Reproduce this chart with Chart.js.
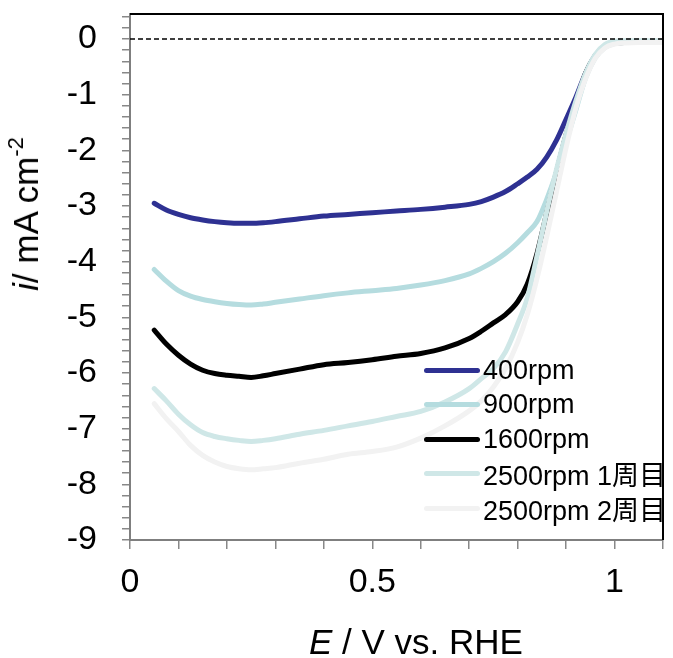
<!DOCTYPE html>
<html>
<head>
<meta charset="utf-8">
<script src="https://cdn.jsdelivr.net/npm/chart.js@4.4.1/dist/chart.umd.min.js"></script>
<style>
  body { margin: 0; background: #fff; }
  #wrap { position: relative; width: 673px; height: 658px; font-family: "Liberation Sans", Arial, "Noto Sans CJK JP", sans-serif; }
  #xtitle { position: absolute; left: 416px; top: 642px; transform: translate(-50%, -50%); font-size: 35px; white-space: nowrap; color: #000; }
  #ytitle { position: absolute; left: 26px; top: 214px; transform: translate(-50%, -50%) rotate(-90deg); font-size: 35px; white-space: nowrap; color: #000; }
  #ytitle sup { font-size: 22px; vertical-align: 15px; line-height: 0; }
  #legend { position: absolute; left: 424px; top: 353px; }
  .row { display: flex; align-items: center; height: 34.5px; font-size: 27px; white-space: nowrap; font-family: "Liberation Sans", Arial, "Noto Sans CJK JP", sans-serif; }
  .sw { width: 56px; height: 5px; border-radius: 3px; margin-right: 3px; }
</style>
</head>
<body>
<div id="wrap">
  <canvas id="chart" width="673" height="658"></canvas>
  <div id="xtitle"><i>E</i> / V vs. RHE</div>
  <div id="ytitle"><i>i</i>/ mA cm<sup>-2</sup></div>
  <div id="legend"></div>
</div>
<script>
// potential / V vs. RHE
const potential = [0.05, 0.075, 0.10, 0.125, 0.15, 0.175, 0.20, 0.225, 0.25, 0.275,
  0.30, 0.35, 0.40, 0.45, 0.50, 0.55, 0.60, 0.65, 0.70, 0.725,
  0.75, 0.775, 0.80, 0.82, 0.84, 0.86, 0.88, 0.90, 0.92, 0.94,
  0.96, 0.98, 1.00, 1.02, 1.05, 1.08, 1.10];

// current density / mA cm-2
const i400 = [-2.95, -3.07, -3.15, -3.21, -3.25, -3.28, -3.30, -3.31, -3.31, -3.30,
  -3.28, -3.23, -3.18, -3.15, -3.12, -3.09, -3.06, -3.02, -2.97, -2.92,
  -2.84, -2.74, -2.60, -2.48, -2.34, -2.12, -1.82, -1.44, -1.05, -0.62,
  -0.30, -0.13, -0.07, -0.05, -0.05, -0.05, -0.05];
const i900 = [-4.14, -4.35, -4.52, -4.62, -4.68, -4.72, -4.75, -4.77, -4.78, -4.76,
  -4.73, -4.67, -4.61, -4.56, -4.52, -4.48, -4.42, -4.34, -4.22, -4.12,
  -4.00, -3.85, -3.66, -3.48, -3.28, -2.88, -2.40, -1.85, -1.28, -0.70,
  -0.34, -0.15, -0.08, -0.06, -0.06, -0.06, -0.06];
const i1600 = [-5.23, -5.48, -5.68, -5.84, -5.95, -6.01, -6.04, -6.06, -6.08, -6.05,
  -6.01, -5.93, -5.85, -5.81, -5.76, -5.70, -5.65, -5.55, -5.38, -5.25,
  -5.10, -4.95, -4.72, -4.40, -3.85, -3.12, -2.40, -1.72, -1.16, -0.62,
  -0.30, -0.13, -0.07, -0.06, -0.06, -0.06, -0.06];
const i2500a = [-6.28, -6.50, -6.74, -6.93, -7.07, -7.14, -7.18, -7.21, -7.23, -7.21,
  -7.18, -7.10, -7.03, -6.95, -6.87, -6.78, -6.69, -6.52, -6.28, -6.10,
  -5.92, -5.62, -5.12, -4.65, -3.90, -3.10, -2.35, -1.70, -1.12, -0.62,
  -0.28, -0.10, -0.04, -0.03, -0.03, -0.03, -0.03];
const i2500b = [-6.55, -6.82, -7.05, -7.30, -7.48, -7.60, -7.68, -7.72, -7.74, -7.72,
  -7.70, -7.62, -7.55, -7.46, -7.41, -7.33, -7.17, -6.95, -6.68, -6.50,
  -6.25, -5.92, -5.45, -4.95, -4.30, -3.55, -2.75, -1.95, -1.25, -0.72,
  -0.35, -0.16, -0.09, -0.07, -0.06, -0.06, -0.06];

const seriesLabels = ['400rpm', '900rpm', '1600rpm', '2500rpm 1周目', '2500rpm 2周目'];
const seriesValues = [i400, i900, i1600, i2500a, i2500b];
const seriesColors = ['#2e3192', '#b5dcdf', '#000000', '#cfe7e7', '#f2f2f2'];

// zero reference line
const zeroLineX = [0, 1.1];
const zeroLineY = [0, 0];

// axis ticks
const xTicks = [0, 0.1, 0.2, 0.3, 0.4, 0.5, 0.6, 0.7, 0.8, 0.9, 1.0, 1.1];
const xLabels = ['0', '', '', '', '', '0.5', '', '', '', '', '1', ''];
const yMin = -9, yMax = 0.45, yMinorStep = 0.2;
const yTicks = [];
for (let k = 0; yMin + k * yMinorStep <= yMax + 1e-9; k++) {
  yTicks.push(Math.round((yMin + k * yMinorStep) * 10) / 10);
}
const yLabel = v => Number.isInteger(v) ? String(v) : '';

const FONT = '"Liberation Sans", Arial, "Noto Sans CJK JP", sans-serif';

const datasets = seriesLabels.map((label, s) => ({
  label: label,
  data: potential.map((e, k) => ({x: e, y: seriesValues[s][k]})),
  borderColor: seriesColors[s],
  backgroundColor: seriesColors[s],
  borderWidth: 5,
  borderCapStyle: 'round',
  borderJoinStyle: 'round',
  pointRadius: 0,
  cubicInterpolationMode: 'monotone',
  order: seriesLabels.length - s
}));
datasets.push({
  label: 'zero',
  data: zeroLineX.map((e, k) => ({x: e, y: zeroLineY[k]})),
  borderColor: '#000',
  borderWidth: 1.5,
  borderDash: [5, 3],
  pointRadius: 0,
  order: -1
});

const frame = {
  id: 'frame',
  afterDraw(chart) {
    const {ctx, chartArea: a} = chart;
    ctx.save();
    ctx.strokeStyle = '#000';
    ctx.lineWidth = 2;
    ctx.beginPath();
    ctx.moveTo(a.left, a.top);
    ctx.lineTo(a.right, a.top);
    ctx.lineTo(a.right, a.bottom);
    ctx.stroke();
    ctx.restore();
  }
};

new Chart(document.getElementById('chart'), {
  type: 'line',
  data: {datasets: datasets},
  plugins: [frame],
  options: {
    responsive: false,
    animation: false,
    devicePixelRatio: 1,
    layout: {padding: {left: 0, right: 10, top: 14, bottom: 0}},
    plugins: {legend: {display: false}, tooltip: {enabled: false}},
    scales: {
      x: {
        type: 'linear',
        min: 0,
        max: 1.1,
        afterBuildTicks: s => { s.ticks = xTicks.map(v => ({value: v})); },
        afterFit: s => { s.height = 118; s.paddingRight = 0; },
        ticks: {
          autoSkip: false,
          maxRotation: 0,
          padding: 13,
          color: '#000',
          font: c => ({family: FONT, size: xLabels[c.index] ? 34 : 1}),
          callback: (v, idx) => xLabels[idx]
        },
        grid: {drawOnChartArea: false, drawTicks: true, tickLength: 9, color: '#888', lineWidth: 1.5},
        border: {color: '#7f7f7f', width: 2}
      },
      y: {
        type: 'linear',
        min: yMin,
        max: yMax,
        afterBuildTicks: s => { s.ticks = yTicks.map(v => ({value: v})); },
        afterFit: s => { s.width = 130; s.paddingTop = 0; s.paddingBottom = 0; },
        ticks: {
          autoSkip: false,
          padding: 25,
          color: '#000',
          font: c => ({family: FONT, size: yLabel(yTicks[c.index]) ? 34 : 1}),
          callback: (v, idx) => yLabel(yTicks[idx])
        },
        grid: {drawOnChartArea: false, drawTicks: true, tickLength: 8, color: '#888', lineWidth: 1.5},
        border: {color: '#7f7f7f', width: 2}
      }
    }
  }
});

// legend built from the series arrays
const legend = document.getElementById('legend');
seriesLabels.forEach((label, s) => {
  const row = document.createElement('div');
  row.className = 'row';
  const sw = document.createElement('span');
  sw.className = 'sw';
  sw.style.background = seriesColors[s];
  const tx = document.createElement('span');
  tx.textContent = label;
  row.appendChild(sw);
  row.appendChild(tx);
  legend.appendChild(row);
});
</script>
</body>
</html>
